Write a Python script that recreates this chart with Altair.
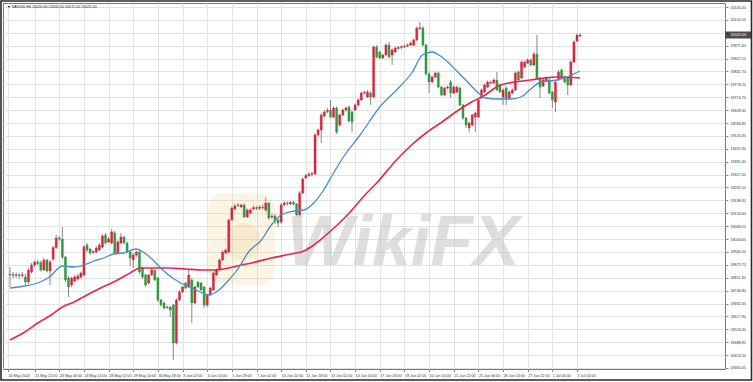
import altair as alt
import pandas as pd

# ---------------- data ----------------
opens = [18825, 18828, 18823, 18826, 18822, 18815, 18790, 18840, 18875, 18890,
         18888, 18850, 18900, 18845, 18905, 18962, 19010, 19005, 18915, 18810,
         18775, 18795, 18805, 18815, 18825, 18975, 18955, 18938, 18940, 18950,
         18965, 19025, 18990, 18985, 19035, 18935, 18985, 19015, 18985, 18940,
         18900, 18925, 18940, 18860, 18825, 18785, 18825, 18848, 18810, 18700,
         18685, 18662, 18665, 18675, 18485, 18700, 18740, 18785, 18765, 18800,
         18685, 18790, 18785, 18765, 18675, 18725, 18750, 18825, 18850, 18900,
         18935, 18940, 19100, 19155, 19172, 19165, 19175, 19115, 19135, 19155,
         19162, 19158, 19165, 19150, 19185, 19115, 19120, 19100, 19090, 19175,
         19185, 19180, 19188, 19180, 19125, 19235, 19310, 19322, 19328, 19330,
         19525, 19550, 19620, 19642, 19650, 19615, 19660, 19575, 19625, 19650,
         19665, 19640, 19650, 19675, 19700, 19735, 19715, 19735, 19715, 19965,
         19940, 19910, 19925, 19975, 19925, 19940, 19958, 19962, 19966, 19970,
         19975, 19975, 20000, 20058, 20060, 19975, 19830, 19790, 19815, 19835,
         19765, 19725, 19760, 19790, 19735, 19740, 19760, 19675, 19610, 19560,
         19575, 19615, 19615, 19710, 19740, 19765, 19785, 19785, 19800, 19775,
         19715, 19760, 19710, 19735, 19750, 19840, 19810, 19865, 19885, 19900,
         19875, 19930, 19810, 19770, 19795, 19800, 19740, 19690, 19800, 19850,
         19815, 19810, 19775, 19890, 19995, 20020]
highs = [18865, 18840, 18838, 18835, 18840, 18830, 18858, 18885, 18898, 18900,
         18895, 18910, 18905, 18900, 18970, 19025, 19020, 19065, 18920, 18820,
         18815, 18825, 18830, 18842, 18975, 18985, 18962, 18950, 18968, 18985,
         19030, 19035, 19015, 19055, 19045, 18998, 19035, 19022, 18992, 18948,
         18935, 18948, 18950, 18865, 18830, 18830, 18860, 18852, 18815, 18705,
         18692, 18672, 18670, 18680, 18708, 18750, 18770, 18790, 18850, 18810,
         18772, 18795, 18790, 18770, 18730, 18765, 18840, 18858, 18908, 18948,
         18958, 19108, 19168, 19180, 19185, 19182, 19185, 19158, 19160, 19172,
         19170, 19175, 19178, 19215, 19190, 19130, 19130, 19110, 19185, 19195,
         19192, 19195, 19195, 19185, 19245, 19312, 19330, 19338, 19340, 19535,
         19558, 19635, 19650, 19660, 19700, 19668, 19668, 19632, 19658, 19668,
         19672, 19648, 19682, 19708, 19742, 19748, 19750, 19742, 19972, 19975,
         19945, 19932, 19982, 19990, 19958, 19968, 19970, 19974, 19978, 19982,
         19992, 20008, 20068, 20090, 20068, 19982, 19842, 19822, 19842, 19842,
         19770, 19766, 19772, 19800, 19772, 19772, 19768, 19680, 19615, 19592,
         19632, 19642, 19708, 19758, 19782, 19798, 19798, 19808, 19840, 19782,
         19758, 19768, 19748, 19758, 19842, 19848, 19898, 19898, 19908, 19908,
         19940, 20025, 19815, 19808, 19818, 19810, 19745, 19798, 19850, 19858,
         19822, 19815, 19898, 19998, 20032, 20032]
lows = [18765, 18810, 18812, 18808, 18812, 18775, 18780, 18832, 18865, 18872,
        18842, 18845, 18838, 18775, 18895, 18955, 18995, 18905, 18790, 18715,
        18765, 18788, 18798, 18808, 18818, 18940, 18925, 18930, 18932, 18945,
        18960, 18978, 18985, 18978, 18928, 18930, 18980, 18978, 18935, 18870,
        18860, 18915, 18830, 18805, 18765, 18778, 18820, 18795, 18690, 18668,
        18652, 18655, 18615, 18400, 18478, 18695, 18735, 18755, 18760, 18585,
        18680, 18760, 18745, 18660, 18665, 18720, 18745, 18820, 18845, 18895,
        18930, 18935, 19095, 19150, 19165, 19160, 19110, 19110, 19130, 19148,
        19150, 19150, 19152, 19140, 19100, 19105, 19080, 19065, 19080, 19168,
        19172, 19175, 19172, 19118, 19115, 19228, 19305, 19315, 19318, 19325,
        19518, 19485, 19612, 19635, 19608, 19608, 19530, 19565, 19620, 19642,
        19588, 19540, 19645, 19670, 19695, 19728, 19710, 19675, 19710, 19908,
        19905, 19905, 19920, 19908, 19875, 19935, 19952, 19955, 19960, 19964,
        19970, 19970, 19995, 20050, 19968, 19822, 19735, 19785, 19810, 19758,
        19718, 19720, 19752, 19710, 19730, 19735, 19668, 19600, 19560, 19540,
        19570, 19540, 19610, 19705, 19735, 19760, 19778, 19780, 19745, 19735,
        19675, 19675, 19705, 19730, 19745, 19795, 19805, 19860, 19880, 19868,
        19870, 19805, 19710, 19765, 19790, 19728, 19660, 19640, 19795, 19805,
        19785, 19725, 19770, 19885, 19990, 20015]
closes = [18828, 18823, 18826, 18822, 18826, 18790, 18850, 18875, 18890, 18882,
          18850, 18900, 18845, 18890, 18962, 19010, 19005, 18915, 18800, 18765,
          18810, 18815, 18820, 18835, 18965, 18950, 18935, 18942, 18960, 18975,
          19020, 18985, 19005, 19040, 18935, 18990, 19015, 18985, 18940, 18910,
          18925, 18940, 18840, 18815, 18775, 18825, 18850, 18800, 18700, 18675,
          18660, 18665, 18650, 18485, 18700, 18740, 18765, 18760, 18825, 18685,
          18765, 18765, 18750, 18675, 18725, 18760, 18835, 18850, 18900, 18940,
          18950, 19100, 19160, 19170, 19175, 19175, 19115, 19150, 19150, 19162,
          19158, 19165, 19160, 19185, 19110, 19120, 19095, 19085, 19175, 19185,
          19182, 19188, 19180, 19125, 19235, 19305, 19322, 19330, 19332, 19525,
          19550, 19625, 19640, 19648, 19615, 19660, 19540, 19625, 19650, 19660,
          19595, 19590, 19675, 19700, 19735, 19738, 19740, 19715, 19965, 19915,
          19910, 19925, 19975, 19915, 19950, 19960, 19962, 19966, 19970, 19975,
          19985, 20000, 20060, 20062, 19975, 19830, 19790, 19815, 19835, 19765,
          19725, 19760, 19765, 19735, 19765, 19765, 19675, 19610, 19575, 19585,
          19625, 19635, 19700, 19750, 19775, 19790, 19788, 19800, 19750, 19740,
          19750, 19710, 19740, 19750, 19835, 19800, 19890, 19890, 19900, 19875,
          19930, 19810, 19765, 19800, 19810, 19735, 19700, 19790, 19840, 19810,
          19790, 19775, 19890, 19990, 20025, 20025]

# moving averages (bar position, value)
ma_fast_pos = [0, 4.8, 9, 12.8, 17, 20.8, 24, 27.2, 30.4, 33.6, 36.8, 41, 43.2,
               46.4, 49.6, 52.8, 56, 59.2, 62.4, 64.6, 67.8, 71, 74.2, 77.4, 81.6,
               84.8, 88, 92.2, 95.4, 98.6, 101.8, 105, 108.2, 113.6, 120, 126.4,
               130.6, 133.8, 137, 139.2, 142.4, 145.6, 148.8, 152, 154.2, 158.4,
               162.6, 165.8, 169, 172.2, 177.6, 180.8, 183, 185]
ma_fast_val = [18760, 18770, 18785, 18815, 18870, 18865, 18875, 18895, 18910,
               18930, 18935, 18955, 18940, 18900, 18850, 18810, 18780, 18760,
               18735, 18725, 18750, 18800, 18860, 18940, 19000, 19075, 19125,
               19145, 19150, 19185, 19250, 19335, 19415, 19525, 19665, 19765,
               19840, 19925, 19940, 19925, 19885, 19835, 19785, 19735, 19710,
               19705, 19705, 19715, 19755, 19790, 19800, 19815, 19830, 19845]
ma_slow_pos = [0, 4.8, 9, 13.4, 17, 20.8, 25, 29.4, 33.6, 37.8, 40.6, 42.2, 46.4,
               51.8, 57, 62.4, 66.6, 71, 75.2, 78.4, 84.8, 91.2, 95.4, 98.6,
               101.8, 106.2, 110.4, 114.6, 119, 125.4, 129.6, 135, 140.2, 145.6,
               149.8, 154.2, 158.4, 163.8, 169, 173.4, 177.6, 185]
ma_slow_val = [18500, 18540, 18585, 18625, 18665, 18690, 18725, 18760, 18790,
               18825, 18850, 18860, 18860, 18860, 18855, 18850, 18850, 18860,
               18875, 18885, 18910, 18930, 18945, 18975, 19015, 19075, 19140,
               19215, 19285, 19400, 19465, 19535, 19590, 19650, 19690, 19725,
               19770, 19790, 19800, 19810, 19815, 19810]

# axis labels
time_tick_pos = [8, 16, 24, 32, 40, 48, 56, 64, 72, 80, 88, 96, 104, 112, 120,
                 128, 136, 144, 152, 160, 168, 176, 184]
time_tick_text = ["21 May 22:00", "23 May 06:00", "24 May 14:00", "28 May 02:00",
                  "29 May 10:00", "30 May 18:00", "3 Jun 02:00", "4 Jun 10:00",
                  "5 Jun 18:00", "7 Jun 02:00", "10 Jun 10:00", "11 Jun 18:00",
                  "13 Jun 02:00", "14 Jun 10:00", "17 Jun 18:00", "19 Jun 02:00",
                  "20 Jun 10:00", "21 Jun 22:00", "25 Jun 06:00", "26 Jun 14:00",
                  "27 Jun 22:00", "1 Jul 06:00", "2 Jul 14:00"]
first_label = "20 May 2024"
price_ticks = [18360.05, 18424.50, 18488.95, 18553.45, 18617.90, 18682.35,
               18746.80, 18811.30, 18875.75, 18940.20, 19004.65, 19069.15,
               19133.60, 19198.05, 19262.50, 19327.00, 19391.45, 19455.90,
               19520.35, 19584.85, 19649.30, 19713.75, 19778.20, 19842.70,
               19907.15, 19971.60, 20036.05, 20100.55, 20165.00]
header = "\u25BC NAS100,H4  20020.00 20032.00 20015.00 20025.00"

# ---------------- chart ----------------
FONT = "Liberation Sans"
FS = 3.7
RED = "#d7263d"
GREEN = "#2f9a3f"

n = len(opens)
df = pd.DataFrame({"i": list(range(n)), "open": opens, "high": highs,
                   "low": lows, "close": closes})
df["dir"] = ["up" if c >= o else "down" for o, c in zip(opens, closes)]

fast = pd.DataFrame({"i": ma_fast_pos, "v": ma_fast_val})
slow = pd.DataFrame({"i": ma_slow_pos, "v": ma_slow_val})

x0 = -0.64
xs = alt.Scale(domain=[x0, 230.4], nice=False, zero=False)
ys = alt.Scale(domain=[18355, 20185], nice=False, zero=False)

arr = "[" + ",".join("'" + t + "'" for t in time_tick_text) + "]"
label_expr = (f"datum.value < 0 ? '{first_label}' : "
              f"{arr}[round((datum.value - 8) / 8)]")

# the tick label hidden under the current-price box is left blank
hidden = 20036.05
y_label_expr = f"abs(datum.value - {hidden}) < 1 ? '' : format(datum.value, '.2f')"

x_axis = alt.Axis(values=[x0] + time_tick_pos, labelExpr=label_expr,
                  labelAlign="left", labelBaseline="top", labelFontSize=FS,
                  labelFont=FONT, labelColor="#333", labelPadding=1.5,
                  tickSize=2.5, tickColor="#888", grid=True, gridColor="#e3e3e3",
                  gridWidth=1, domain=False, title=None, labelOverlap=False,
                  labelBound=False, labelFlush=False)
y_axis = alt.Axis(orient="right", values=price_ticks, labelExpr=y_label_expr,
                  labelFontSize=FS, labelFont=FONT, labelColor="#333",
                  labelPadding=2, tickSize=3, tickColor="#888", grid=True,
                  gridColor="#e3e3e3", gridWidth=1, domain=False, title=None,
                  labelOverlap=False, labelBound=False, labelFlush=False)


def X(field):
    return alt.X(field, scale=xs, axis=x_axis, title=None)


def Y(field):
    return alt.Y(field, scale=ys, axis=y_axis, title=None)


one = pd.DataFrame({"k": [0]})

logo = alt.Chart(one).mark_rect(cornerRadius=16, color="#f3c767",
                                opacity=0.18).encode(
    x=alt.value(205), x2=alt.value(272), y=alt.value(190), y2=alt.value(282))
logo_inner = alt.Chart(one).mark_point(shape="circle", filled=True, size=1300,
                                       color="#d9a441", opacity=0.13).encode(
    x=alt.value(240), y=alt.value(238))
watermark = alt.Chart(one).mark_text(text="WikiFX", fontSize=70, fontWeight="bold",
                                     fontStyle="italic", font="Liberation Sans",
                                     color="#c4c4c4", opacity=0.55, align="left",
                                     baseline="alphabetic").encode(
    x=alt.value(284), y=alt.value(262))

wicks = alt.Chart(df).mark_rule(color="#6a6a6a", strokeWidth=0.8).encode(
    x=X("i:Q"), y=Y("low:Q"), y2="high:Q")

bodies = alt.Chart(df).mark_bar(size=2.1, strokeWidth=0.4).encode(
    x=X("i:Q"), y=Y("open:Q"), y2="close:Q",
    color=alt.Color("dir:N", scale=alt.Scale(domain=["up", "down"],
                                             range=[RED, GREEN]), legend=None),
    stroke=alt.Stroke("dir:N", scale=alt.Scale(domain=["up", "down"],
                                               range=[RED, GREEN]), legend=None))

line_fast = alt.Chart(fast).mark_line(color="#4a8fc8", strokeWidth=1.3,
                                      interpolate="monotone").encode(
    x=X("i:Q"), y=Y("v:Q"))
line_slow = alt.Chart(slow).mark_line(color="#e2284f", strokeWidth=1.6,
                                      interpolate="monotone").encode(
    x=X("i:Q"), y=Y("v:Q"))

last = pd.DataFrame({"p": [closes[-1]], "t": [f"{closes[-1]:.2f}"]})
price_box = alt.Chart(last).mark_tick(orient="horizontal", size=26, thickness=7,
                                      color="#000").encode(
    x=alt.value(735.5), y=Y("p:Q"))
price_txt = alt.Chart(last).mark_text(color="#fff", fontSize=FS, font=FONT,
                                      align="center", baseline="middle").encode(
    x=alt.value(735.5), y=Y("p:Q"), text="t:N")

head = alt.Chart(one).mark_text(text=header, fontSize=FS, font=FONT,
                                color="#222", align="left",
                                baseline="middle").encode(
    x=alt.value(4), y=alt.value(4))

frame = alt.Chart(one).mark_rect(fillOpacity=0, stroke="#2a2a2a",
                                 strokeWidth=1.6).encode(
    x=alt.value(-2), x2=alt.value(748.5), y=alt.value(-2), y2=alt.value(377))

chart = alt.layer(
    wicks, logo, logo_inner, watermark, bodies, line_slow, line_fast,
    price_box, price_txt, head, frame
).resolve_scale(color="independent", stroke="independent").properties(
    width=722, height=366, autosize=alt.AutoSizeParams(type="none"),
    padding={"left": 3, "top": 3, "right": 28, "bottom": 13},
    background="#ffffff"
).configure_view(stroke="#777", strokeWidth=1)

chart.save("out.html", embed_options={"renderer": "svg", "actions": False})
